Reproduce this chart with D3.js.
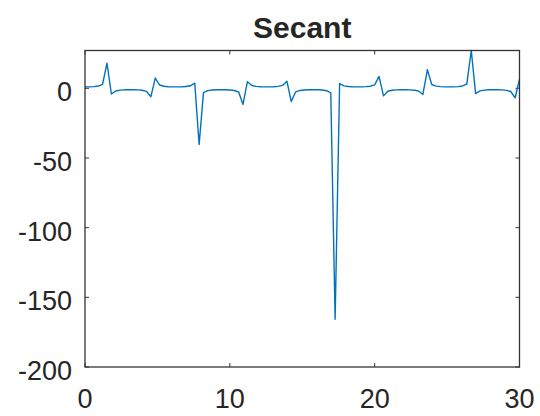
<!DOCTYPE html>
<html>
  <head>
    <meta charset="utf-8">
    <title>Secant</title>
    <script src="https://d3js.org/d3.v7.min.js"></script>
    <style>
      body { margin: 0; background: #fff; }
      text { font-family: "Liberation Sans", Arial, sans-serif; fill: #262626; }
    </style>
  </head>
  <body>
    <script>
      var title = "Secant";

      var xValues = [
        0.00, 0.30, 0.61, 0.91, 1.21, 1.52, 1.82, 2.12, 2.42, 2.73,
        3.03, 3.33, 3.64, 3.94, 4.24, 4.55, 4.85, 5.15, 5.45, 5.76,
        6.06, 6.36, 6.67, 6.97, 7.27, 7.58, 7.88, 8.18, 8.48, 8.79,
        9.09, 9.39, 9.70, 10.00, 10.30, 10.61, 10.91, 11.21, 11.52, 11.82,
        12.12, 12.42, 12.73, 13.03, 13.33, 13.64, 13.94, 14.24, 14.55, 14.85,
        15.15, 15.45, 15.76, 16.06, 16.36, 16.67, 16.97, 17.27, 17.58, 17.88,
        18.18, 18.48, 18.79, 19.09, 19.39, 19.70, 20.00, 20.30, 20.61, 20.91,
        21.21, 21.52, 21.82, 22.12, 22.42, 22.73, 23.03, 23.33, 23.64, 23.94,
        24.24, 24.55, 24.85, 25.15, 25.45, 25.76, 26.06, 26.36, 26.67, 26.97,
        27.27, 27.58, 27.88, 28.18, 28.48, 28.79, 29.09, 29.39, 29.70, 30.00
      ];

      var yValues = [
        1.00, 1.05, 1.22, 1.63, 2.85, 17.99, -4.08, -1.91, -1.33, -1.09,
        -1.01, -1.02, -1.14, -1.43, -2.21, -6.01, 7.37, 2.35, 1.48, 1.16,
        1.03, 1.00, 1.08, 1.29, 1.82, 3.64, -40.3, -3.11, -1.70, -1.24,
        -1.06, -1.00, -1.04, -1.19, -1.57, -2.64, -11.58, 4.66, 2.01, 1.36,
        1.11, 1.01, 1.01, 1.12, 1.39, 2.08, 5.09, -9.52, -2.52, -1.53,
        -1.18, -1.03, -1.00, -1.07, -1.26, -1.74, -3.29, -165.8, 3.42, 1.77,
        1.27, 1.07, 1.00, 1.03, 1.17, 1.51, 2.45, 8.54, -5.42, -2.13,
        -1.41, -1.13, -1.02, -1.01, -1.10, -1.35, -1.97, -4.41, 13.44, 2.71,
        1.59, 1.20, 1.04, 1.00, 1.05, 1.23, 1.67, 3.00, 27.13, -3.80,
        -1.86, -1.31, -1.08, -1.00, -1.02, -1.15, -1.46, -2.29, -6.78, 6.48
      ];

      var xTicks = [0, 10, 20, 30];
      var yTicks = [-200, -150, -100, -50, 0];

      var width = 540, height = 416;
      var plotLeft = 85, plotRight = 519.5, plotTop = 50.5, plotBottom = 367;

      var svg = d3.select("body").append("svg")
        .attr("width", width)
        .attr("height", height);

      var x = d3.scaleLinear().domain([0, 30]).range([plotLeft, plotRight]);
      var y = d3.scaleLinear().domain([-200, d3.max(yValues)]).range([plotBottom, plotTop]);

      var axisColor = "#333";

      // tick marks on all four sides, pointing inward
      var tickLen = 4;
      var ticks = svg.append("g").attr("stroke", axisColor).attr("stroke-width", 1);
      xTicks.forEach(function(t) {
        ticks.append("line").attr("x1", x(t)).attr("x2", x(t)).attr("y1", plotBottom).attr("y2", plotBottom - tickLen);
        ticks.append("line").attr("x1", x(t)).attr("x2", x(t)).attr("y1", plotTop).attr("y2", plotTop + tickLen);
      });
      yTicks.forEach(function(t) {
        ticks.append("line").attr("x1", plotLeft).attr("x2", plotLeft + tickLen).attr("y1", y(t)).attr("y2", y(t));
        ticks.append("line").attr("x1", plotRight).attr("x2", plotRight - tickLen).attr("y1", y(t)).attr("y2", y(t));
      });

      var line = d3.line()
        .x(function(d, i) { return x(xValues[i]); })
        .y(function(d) { return y(d); });

      svg.append("path")
        .datum(yValues)
        .attr("fill", "none")
        .attr("stroke", "#0072BD")
        .attr("stroke-width", 1.4)
        .attr("stroke-linejoin", "round")
        .attr("d", line);

      svg.append("rect")
        .attr("x", plotLeft).attr("y", plotTop)
        .attr("width", plotRight - plotLeft).attr("height", plotBottom - plotTop)
        .attr("fill", "none")
        .attr("stroke", axisColor)
        .attr("stroke-width", 1.3);

      svg.selectAll(".xlab")
        .data(xTicks)
        .enter().append("text")
          .attr("class", "xlab")
          .attr("x", function(d) { return x(d); })
          .attr("y", plotBottom + 41)
          .attr("text-anchor", "middle")
          .attr("font-size", 27)
          .text(function(d) { return d; });

      svg.selectAll(".ylab")
        .data(yTicks)
        .enter().append("text")
          .attr("class", "ylab")
          .attr("x", plotLeft - 13)
          .attr("y", function(d) { return y(d) + 13; })
          .attr("text-anchor", "end")
          .attr("font-size", 27)
          .text(function(d) { return d; });

      svg.append("text")
        .attr("x", (plotLeft + plotRight) / 2)
        .attr("y", 38)
        .attr("text-anchor", "middle")
        .attr("font-size", 30)
        .attr("font-weight", "bold")
        .attr("fill", "#000")
        .text(title);
    </script>
  </body>
</html>
